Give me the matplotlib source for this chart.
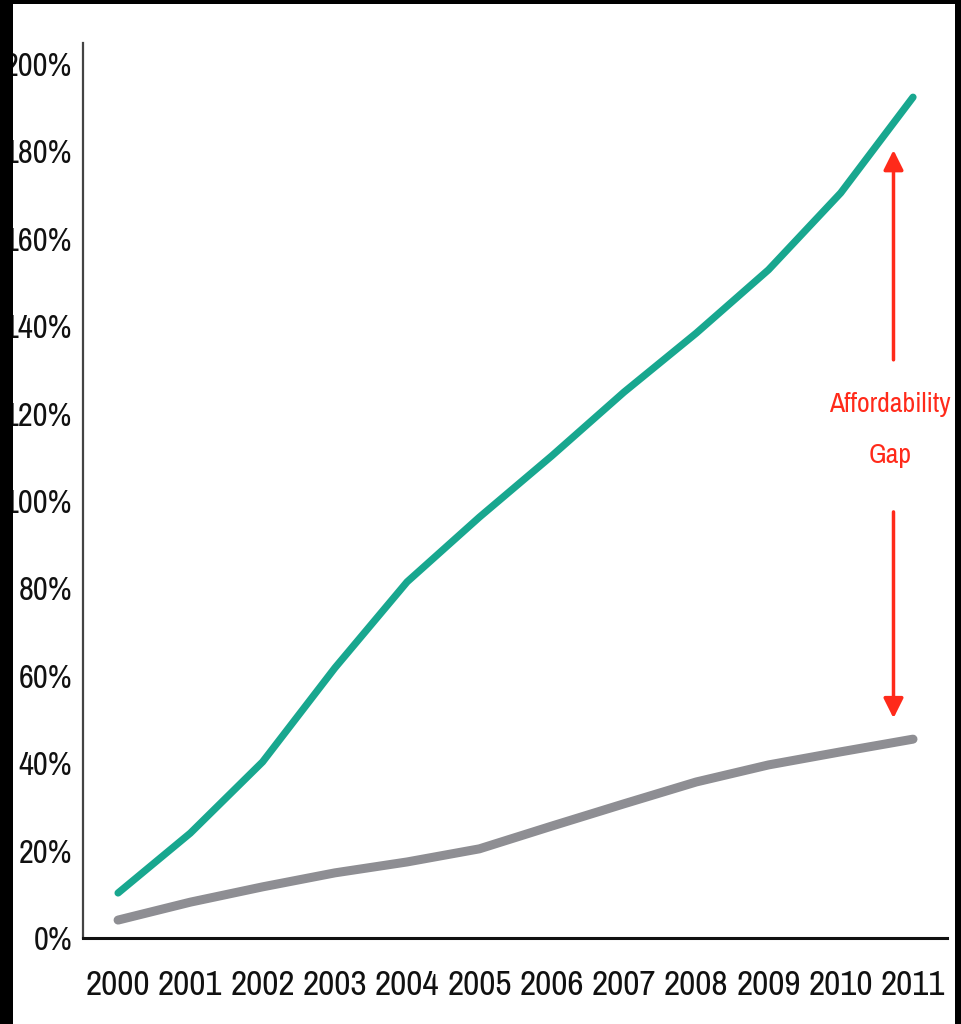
import matplotlib
matplotlib.use("Agg")
import matplotlib.pyplot as plt
from matplotlib.patches import Rectangle

years = [2000, 2001, 2002, 2003, 2004, 2005, 2006, 2007, 2008, 2009, 2010, 2011]
tuition = [10.3, 24.0, 40.3, 61.8, 81.5, 96.3, 110.3, 124.9, 138.4, 152.9, 170.5, 192.4]
income = [4.1, 8.2, 11.7, 14.9, 17.4, 20.4, 25.6, 30.7, 35.7, 39.6, 42.6, 45.5]
y_ticks = [0, 20, 40, 60, 80, 100, 120, 140, 160, 180, 200]
y_labels = [f"{v}%" for v in y_ticks]

FONT = ["Liberation Sans Narrow", "Archivo Narrow", "PT Sans Narrow",
        "Roboto Condensed", "DejaVu Sans"]
plt.rcParams["font.family"] = FONT

fig = plt.figure(figsize=(9.61, 10.24), dpi=100, facecolor="white")
ax = fig.add_axes([0.0864, 0.084, 0.899, 0.874])

ax.plot(years, tuition, color="#18a78f", lw=5.2, solid_capstyle="round", zorder=3)
ax.plot(years, income, color="#8e8e93", lw=6.5, solid_capstyle="round", zorder=3)

ax.set_xlim(1999.515, 2011.47)
ax.set_ylim(0, 204.8)

ax.set_xticks(years)
ax.set_xticklabels([str(y) for y in years], fontsize=25.5)
ax.set_yticks(y_ticks)
ax.set_yticklabels(y_labels, fontsize=23.5)
ax.tick_params(axis="both", length=0, colors="#111111")
ax.tick_params(axis="x", pad=22)
ax.tick_params(axis="y", pad=8)

for s in ["top", "right"]:
    ax.spines[s].set_visible(False)
ax.spines["left"].set_color("#444444")
ax.spines["left"].set_linewidth(1.6)
ax.spines["bottom"].set_color("#111111")
ax.spines["bottom"].set_linewidth(2.2)

# affordability gap annotation
red = "#ff2a1a"
gap_x = 2010.73
ax.annotate("", xy=(gap_x, 180.3), xytext=(gap_x, 132.3),
            arrowprops=dict(arrowstyle="-|>", color=red, lw=2.5,
                            mutation_scale=30, shrinkA=0, shrinkB=0))
ax.annotate("", xy=(gap_x, 50.3), xytext=(gap_x, 97.5),
            arrowprops=dict(arrowstyle="-|>", color=red, lw=2.5,
                            mutation_scale=30, shrinkA=0, shrinkB=0))
ax.text(2010.68, 122, "Affordability", color=red, fontsize=20,
        ha="center", va="center")
ax.text(2010.68, 110.5, "Gap", color=red, fontsize=20,
        ha="center", va="center")

# black frame of the screenshot
for (x0, y0, w, h) in [(0, 0, 13 / 961, 1), (955 / 961, 0, 6 / 961, 1),
                       (0, 1 - 4 / 1024, 1, 4 / 1024)]:
    fig.patches.append(Rectangle((x0, y0), w, h, transform=fig.transFigure,
                                 facecolor="black", edgecolor="none", zorder=10))

fig.savefig("out.png", dpi=100, facecolor="white")
